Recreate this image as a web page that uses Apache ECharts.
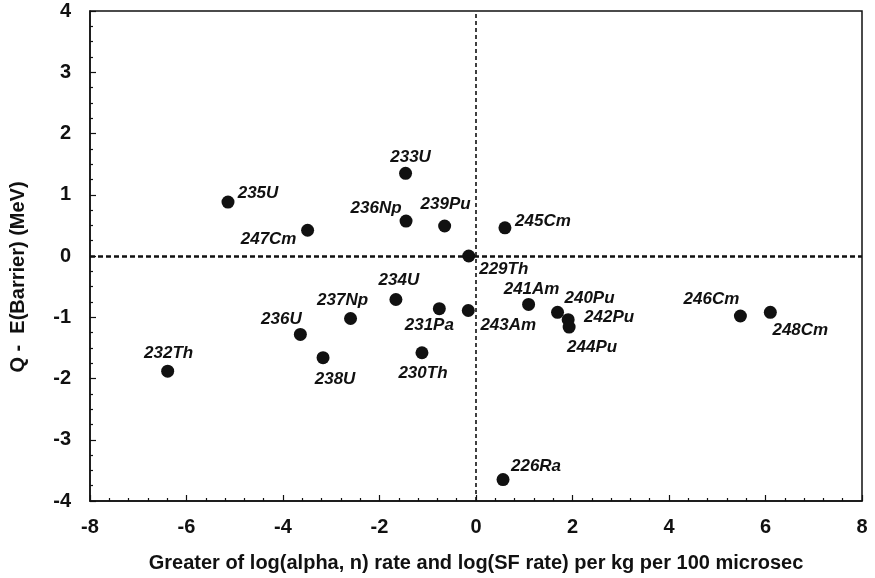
<!DOCTYPE html>
<html>
<head>
<meta charset="utf-8">
<script src="https://cdn.jsdelivr.net/npm/echarts@6/dist/echarts.min.js"></script>
<style>
  html, body { margin: 0; padding: 0; background: #fff; }
  #chart { width: 875px; height: 578px; }
</style>
</head>
<body>
<div id="chart"></div>
<script>
// 同位素名称、横坐标（log 速率）、纵坐标（Q - E(Barrier)）
const isotopes = ['235U', '247Cm', '233U', '236Np', '239Pu', '229Th', '245Cm', '234U', '237Np', '236U',
  '238U', '231Pa', '243Am', '230Th', '241Am', '240Pu', '242Pu', '244Pu', '246Cm', '248Cm', '232Th', '226Ra'];
const logRate = [-5.14, -3.49, -1.46, -1.45, -0.65, -0.15, 0.60, -1.66, -2.60, -3.64,
  -3.17, -0.76, -0.16, -1.12, 1.09, 1.69, 1.91, 1.93, 5.48, 6.10, -6.39, 0.56];
const qMinusB = [0.88, 0.42, 1.35, 0.57, 0.49, 0.0, 0.46, -0.71, -1.02, -1.28,
  -1.66, -0.86, -0.89, -1.58, -0.79, -0.92, -1.04, -1.16, -0.98, -0.92, -1.88, -3.65];
const xTicks = [-8, -6, -4, -2, 0, 2, 4, 6, 8];
const yTicks = [-4, -3, -2, -1, 0, 1, 2, 3, 4];

// 标签相对圆点中心的偏移（像素），仅用于排版
const labelOffset = {
  '235U': [30, -9], '247Cm': [-39, 9], '233U': [5, -16], '236Np': [-30, -13], '239Pu': [1, -22],
  '229Th': [35, 13], '245Cm': [38, -7], '234U': [3, -19], '237Np': [-8, -18], '236U': [-19, -15],
  '238U': [12, 22], '231Pa': [-10, 17], '243Am': [40, 15], '230Th': [1, 21], '241Am': [3, -15],
  '240Pu': [32, -14], '242Pu': [41, -2], '244Pu': [23, 20], '246Cm': [-29, -17], '248Cm': [30, 18],
  '232Th': [1, -18], '226Ra': [33, -13],
};

const ink = '#111';
const font = 'Liberation Sans';
const points = isotopes.map((name, i) => ({
  name,
  value: [logRate[i], qMinusB[i]],
  label: { offset: labelOffset[name] || [0, -16] },
}));

const chart = echarts.init(document.getElementById('chart'));
chart.setOption({
  animation: false,
  grid: { left: 89.5, right: 13, top: 11, bottom: 77, show: true, borderColor: ink, borderWidth: 1.5 },
  xAxis: {
    type: 'value', min: xTicks[0], max: xTicks[xTicks.length - 1], interval: 2,
    splitLine: { show: false },
    axisLine: { onZero: false, lineStyle: { color: ink, width: 1.5 } },
    axisTick: { inside: true, length: 6, lineStyle: { color: ink, width: 1.2 } },
    minorTick: { show: true, splitNumber: 5, length: 3, lineStyle: { color: ink, width: 1.2 } },
    axisLabel: { color: ink, fontFamily: font, fontWeight: 'bold', fontSize: 20, margin: 16 },
    name: 'Greater of log(alpha, n) rate and log(SF rate) per kg per 100 microsec',
    nameLocation: 'middle', nameGap: 52,
    nameTextStyle: { color: ink, fontFamily: font, fontWeight: 'bold', fontSize: 20 },
  },
  yAxis: {
    type: 'value', min: yTicks[0], max: yTicks[yTicks.length - 1], interval: 1,
    splitLine: { show: false },
    axisLine: { onZero: false, lineStyle: { color: ink, width: 1.5 } },
    axisTick: { inside: true, length: 6, lineStyle: { color: ink, width: 1.2 } },
    minorTick: { show: true, splitNumber: 4, length: 3, lineStyle: { color: ink, width: 1.2 } },
    axisLabel: { color: ink, fontFamily: font, fontWeight: 'bold', fontSize: 20, margin: 19 },
    name: 'Q -  E(Barrier) (MeV)',
    nameLocation: 'middle', nameGap: 62, nameRotate: 90,
    // 原图纵轴标题略偏下
    nameTextStyle: { color: ink, fontFamily: font, fontWeight: 'bold', fontSize: 20, padding: [0, 42, 0, 0] },
  },
  series: [{
    type: 'scatter',
    symbolSize: 13,
    itemStyle: { color: ink, opacity: 1 },
    label: {
      show: true, position: 'inside', formatter: '{b}',
      color: ink, fontFamily: font, fontWeight: 'bold', fontStyle: 'italic', fontSize: 17,
      align: 'center', verticalAlign: 'middle',
    },
    data: points,
    markLine: {
      silent: true, symbol: 'none', label: { show: false },
      data: [
        { yAxis: 0, lineStyle: { type: [5, 3], width: 2.5, color: ink, opacity: 1 } },
        { xAxis: 0, lineStyle: { type: [4, 3], width: 1.6, color: ink, opacity: 1 } },
      ],
    },
    z: 3,
  }],
});
</script>
</body>
</html>
